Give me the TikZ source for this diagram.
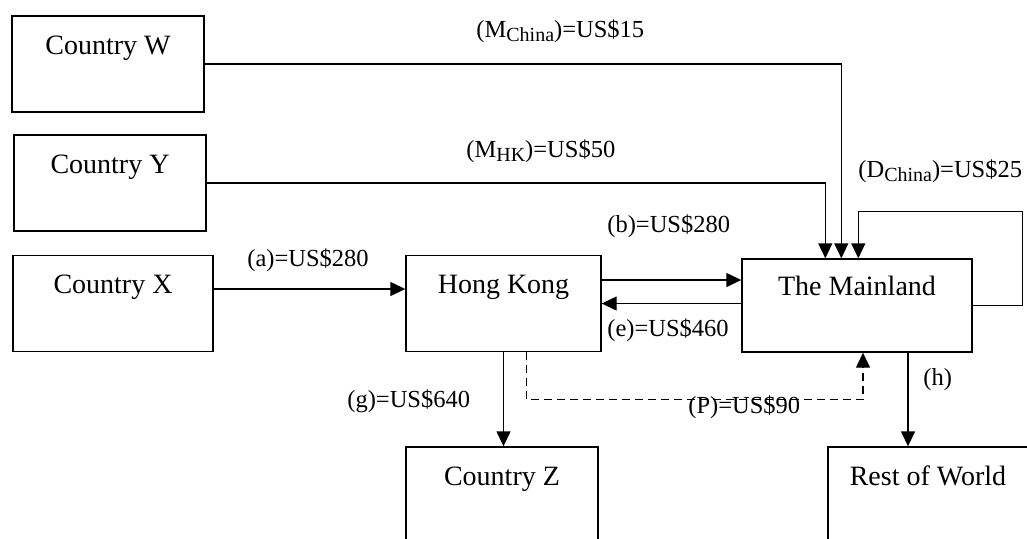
\documentclass[tikz,border=0pt]{standalone}
\usepackage{fontspec}
\setmainfont{Liberation Serif}
\usetikzlibrary{arrows.meta,calc}

\tikzstyle{box}=[draw,rectangle,line width=0.7pt,inner sep=0pt,text height=19pt,text depth=29pt,minimum width=96pt,font=\fontsize{14pt}{17pt}\selectfont]
\tikzstyle{flow}=[draw,line width=0.7pt,-{Triangle[length=7.5pt,width=7pt]}]
\tikzstyle{amount}=[anchor=base west,inner sep=0pt,font=\fontsize{12.25pt}{15pt}\selectfont]
\newcommand{\subtxt}[1]{\raisebox{-2pt}{\fontsize{10pt}{11pt}\selectfont #1}}

\begin{document}
\begin{tikzpicture}[x=0.5pt,y=-0.5pt]
	\useasboundingbox (0,0) rectangle (1027,538);
	\node[box] (cw) at (108,64) {Country W};
		\node[box] (cy) at (110,183) {Country Y};
		\node[box,minimum width=100pt] (cx) at (113,303.5) {Country X};
		\node[box,minimum width=97.5pt] (hk) at (503.5,303.5) {Hong Kong};
		\node[box,minimum width=115pt,text height=18pt,text depth=28.5pt] (main) at (857,305.5) {The Mainland};
		\node[box] (cz) at (502,495) {Country Z};
		\node[box,minimum width=100pt] (row) at (928,495) {Rest of World};
		% entry points on top of the Mainland
		\coordinate (inY) at ($(main.north west)+(84,0)$);
		\coordinate (inW) at ($(main.north west)+(100,0)$);
		\coordinate (inD) at ($(main.north west)+(117,0)$);
		\coordinate (pturn) at ($(main.south)+(6,47)$);
   		 % Connect the boxes with flows
		\path[flow] (cw.east) -| (inW);
		\path[flow] (cy.east) -| (inY);
		\path[flow] (main.east) -- ++(50,0) |- ($(inD)+(0,-47)$) -- (inD);
		\path[flow] ([yshift=7.25pt]cx.east) -- ([yshift=7.25pt]cx.east -| hk.west);
		\path[flow] ([yshift=11.75pt]hk.east) -- ([yshift=11.75pt]hk.east -| main.west);
		\path[flow] (main.west |- hk.east) -- (hk.east);
		\path[flow] (hk.south) -- (hk.south |- cz.north);
		\path[flow] ([xshift=25.5pt]main.south) -- ([xshift=25.5pt]main.south |- row.north);
		\path[flow,dash pattern=on 4pt off 2.5pt] ([xshift=11.5pt]hk.south) |- (pturn) -- (pturn |- main.south);
   		 % Amounts on the flows
   		 \foreach \name/\pos/\txt in {lmc/{(476,37)}/{(M\subtxt{China})=US\$15},
   		 	lmh/{(466,157)}/{(M\subtxt{HK})=US\$50},
   		 	ldc/{(858,177)}/{(D\subtxt{China})=US\$25},
   		 	la/{(247,266)}/{(a)=US\$280},
   		 	lb/{(607,232)}/{(b)=US\$280},
   		 	le/{(607,336)}/{(e)=US\$460},
   		 	lg/{(347,407)}/{(g)=US\$640},
   		 	lp/{(688,413)}/{(P)=US\$90},
   		 	lh/{(923,385)}/{(h)}}
		 \node[amount] (\name) at \pos {\txt};
\end{tikzpicture}
\end{document}
